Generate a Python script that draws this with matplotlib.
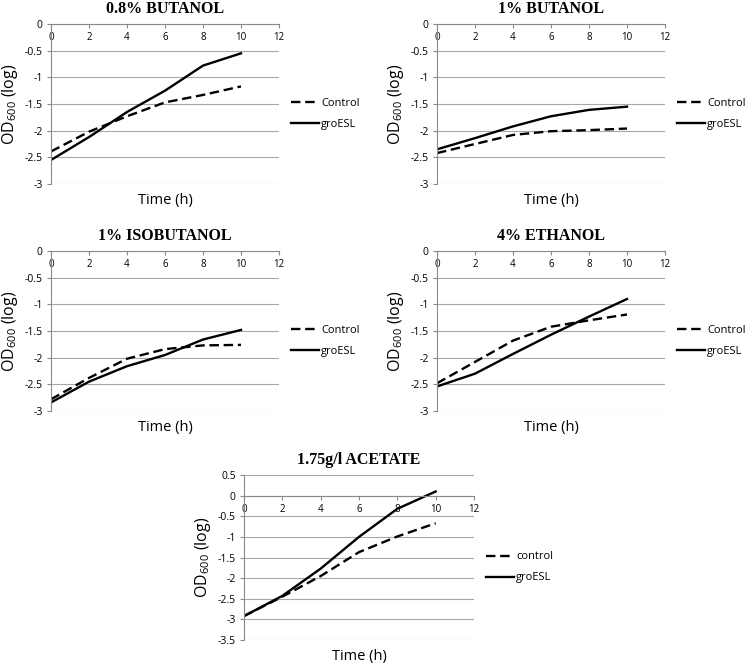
import numpy as np
import matplotlib
matplotlib.use("Agg")
import matplotlib.pyplot as plt

plt.rcParams['font.family'] = ['Open Sans', 'DejaVu Sans']
plt.rcParams['axes.unicode_minus'] = False
plt.rcParams['mathtext.fontset'] = 'custom'
plt.rcParams['mathtext.rm'] = 'Open Sans'

# time points (h)
hours = [0, 2, 4, 6, 8, 10]

titles = ['0.8% BUTANOL', '1% BUTANOL', '1% ISOBUTANOL', '4% ETHANOL', '1.75g/l ACETATE']
legend_names = [['Control', 'groESL']] * 4 + [['control', 'groESL']]

# log OD600
but08_control = [-2.39, -2.02, -1.73, -1.47, -1.33, -1.17]
but08_groesl = [-2.55, -2.12, -1.65, -1.25, -0.78, -0.55]
but1_control = [-2.42, -2.25, -2.08, -2.01, -1.99, -1.96]
but1_groesl = [-2.35, -2.14, -1.92, -1.73, -1.61, -1.55]
isobut_control = [-2.78, -2.38, -2.02, -1.84, -1.77, -1.76]
isobut_groesl = [-2.84, -2.45, -2.16, -1.95, -1.66, -1.48]
eth_control = [-2.48, -2.08, -1.68, -1.42, -1.30, -1.19]
eth_groesl = [-2.54, -2.30, -1.93, -1.57, -1.23, -0.90]
acet_control = [-2.92, -2.45, -1.95, -1.37, -0.99, -0.67]
acet_groesl = [-2.92, -2.43, -1.77, -1.00, -0.32, 0.10]

controls = [but08_control, but1_control, isobut_control, eth_control, acet_control]
groesls = [but08_groesl, but1_groesl, isobut_groesl, eth_groesl, acet_groesl]
ylims = [(-3, 0)] * 4 + [(-3.5, 0.5)]

W, H = 746, 663
# panel boxes in pixels: left, top, right, bottom
boxes = [(51, 24, 279, 184), (437, 24, 665, 184),
         (51, 251, 279, 411), (437, 251, 665, 411),
         (244, 475, 474, 640)]

fig = plt.figure(figsize=(W / 100, H / 100), dpi=100)

for i in range(5):
    l, t, r, b = boxes[i]
    ax = fig.add_axes([l / W, 1 - b / H, (r - l) / W, (b - t) / H])
    ax.plot(hours, controls[i], color='black', lw=1.7, ls=(0, (4, 2)), label=legend_names[i][0])
    ax.plot(hours, groesls[i], color='black', lw=1.7, label=legend_names[i][1])
    ax.set_xlim(0, 12)
    ax.set_ylim(*ylims[i])
    ax.set_xticks(range(0, 13, 2))
    ax.set_yticks(np.arange(ylims[i][0], ylims[i][1] + 0.01, 0.5))
    ax.yaxis.set_major_formatter(matplotlib.ticker.FuncFormatter(lambda v, p: '%g' % v))
    ax.grid(axis='y', color='#a8a8a8', lw=0.8)
    ax.set_axisbelow(True)
    for s in ['top', 'right']:
        ax.spines[s].set_visible(False)
    ax.spines['bottom'].set_position(('data', 0))
    ax.spines['bottom'].set_color('#8a8a8a')
    ax.spines['left'].set_color('#8a8a8a')
    ax.tick_params(axis='x', direction='out', length=3, color='#8a8a8a', labelsize=7, pad=3)
    ax.tick_params(axis='y', direction='out', length=3, color='#8a8a8a', labelsize=7.5, pad=3)
    ax.set_title(titles[i], fontfamily='Liberation Serif', fontweight='bold', fontsize=11.5, pad=8)
    ax.set_ylabel('OD$_{\\mathregular{600}}$ (log)', fontsize=11.5, labelpad=3)
    ax.set_xlabel('Time (h)', fontsize=10.5, labelpad=2)
    ax.xaxis.set_label_coords(0.5, -0.055)
    ax.legend(loc='center left', bbox_to_anchor=(1.01, 0.44), frameon=False, fontsize=8,
              handlelength=2.5, handletextpad=0.2, labelspacing=0.9)

fig.savefig('out.png', dpi=100)
